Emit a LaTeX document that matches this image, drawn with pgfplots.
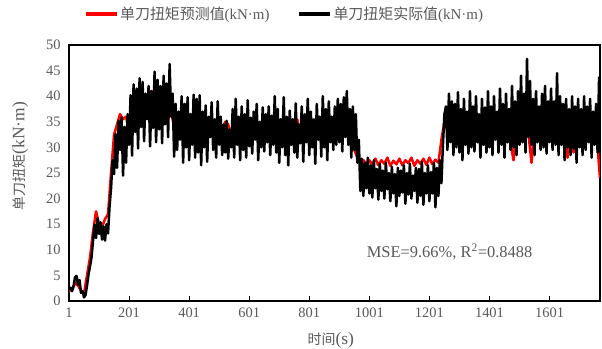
\documentclass[border=0pt]{standalone}
\usepackage{fontspec}
\setmainfont{Liberation Serif}
\newfontfamily\cjk{Noto Sans CJK SC}
\usepackage{pgfplots}
\usepackage{pgfplotstable}
\pgfplotsset{compat=1.18}
\definecolor{txt}{HTML}{595959}
\definecolor{predred}{HTML}{FF0000}

% actual (black), sampled every 5 s starting at t=1
\pgfplotstableread[row sep=\\]{
y\\
2.2\\ 2.6\\ 1.9\\ 2.8\\ 4.6\\ 4.9\\ 3.2\\ 4.1\\ 1.6\\ 1.9\\ 0.7\\ 1.2\\ 3.0\\ 5.2\\ 6.8\\ 8.5\\ 11.8\\ 14.9\\ 12.3\\ 16.2\\
13.1\\ 15.4\\ 12.0\\ 14.6\\ 11.8\\ 15.0\\ 13.2\\ 18.5\\ 22.0\\ 27.5\\ 24.8\\ 32.6\\ 26.0\\ 35.2\\ 29.5\\ 35.8\\ 24.5\\ 34.0\\ 27.0\\ 36.5\\
30.5\\ 40.2\\ 28.4\\ 42.3\\ 33.0\\ 41.5\\ 29.8\\ 43.5\\ 34.0\\ 42.8\\ 31.2\\ 40.5\\ 35.5\\ 42.0\\ 30.2\\ 41.0\\ 33.8\\ 44.8\\ 31.0\\ 43.2\\
33.5\\ 42.0\\ 30.8\\ 44.0\\ 34.5\\ 42.5\\ 32.0\\ 46.3\\ 36.0\\ 40.5\\ 28.2\\ 38.5\\ 29.5\\ 37.0\\ 31.5\\ 40.0\\ 27.0\\ 38.5\\ 30.0\\ 39.8\\
27.5\\ 36.5\\ 30.5\\ 40.3\\ 28.0\\ 39.5\\ 29.0\\ 40.2\\ 26.5\\ 37.0\\ 30.0\\ 38.2\\ 27.2\\ 36.0\\ 32.0\\ 38.8\\ 29.5\\ 35.5\\ 28.0\\ 39.0\\
30.5\\ 36.0\\ 28.5\\ 34.5\\ 29.0\\ 35.2\\ 27.8\\ 33.5\\ 30.0\\ 37.5\\ 28.0\\ 39.5\\ 30.5\\ 36.0\\ 27.5\\ 38.0\\ 29.5\\ 36.5\\ 28.0\\ 39.2\\
30.2\\ 35.8\\ 28.8\\ 37.0\\ 31.5\\ 38.5\\ 27.5\\ 35.0\\ 30.0\\ 37.8\\ 29.2\\ 36.5\\ 31.0\\ 38.0\\ 28.5\\ 36.2\\ 30.5\\ 40.0\\ 29.0\\ 37.5\\
27.0\\ 35.5\\ 30.0\\ 39.8\\ 28.5\\ 36.0\\ 26.5\\ 37.2\\ 30.5\\ 35.5\\ 29.0\\ 38.6\\ 28.0\\ 34.5\\ 30.8\\ 38.0\\ 27.2\\ 36.5\\ 31.0\\ 39.5\\
28.5\\ 37.0\\ 30.0\\ 35.5\\ 26.8\\ 38.5\\ 31.5\\ 36.0\\ 28.2\\ 40.0\\ 30.0\\ 37.5\\ 27.5\\ 39.0\\ 31.0\\ 36.0\\ 29.5\\ 38.0\\ 30.5\\ 39.5\\
31.0\\ 38.5\\ 29.2\\ 39.8\\ 32.0\\ 41.0\\ 30.5\\ 37.5\\ 28.0\\ 38.0\\ 29.5\\ 36.5\\ 27.0\\ 31.5\\ 21.5\\ 27.8\\ 20.5\\ 27.0\\ 22.0\\ 28.0\\
21.0\\ 26.5\\ 20.2\\ 27.5\\ 22.0\\ 25.8\\ 19.8\\ 26.8\\ 21.5\\ 25.5\\ 20.0\\ 27.0\\ 21.8\\ 25.0\\ 19.5\\ 26.2\\ 21.0\\ 24.8\\ 18.5\\ 26.0\\
20.5\\ 25.5\\ 21.2\\ 26.5\\ 19.0\\ 25.0\\ 20.8\\ 26.8\\ 20.0\\ 24.5\\ 21.5\\ 26.0\\ 19.2\\ 25.8\\ 20.5\\ 27.2\\ 18.8\\ 25.0\\ 21.0\\ 26.5\\
19.5\\ 25.2\\ 21.0\\ 27.0\\ 18.3\\ 26.0\\ 20.5\\ 27.5\\ 23.0\\ 30.5\\ 36.5\\ 38.0\\ 29.5\\ 40.5\\ 31.0\\ 39.0\\ 28.5\\ 38.5\\ 30.0\\ 40.8\\
29.0\\ 37.5\\ 27.5\\ 39.5\\ 30.5\\ 37.0\\ 28.8\\ 41.0\\ 30.0\\ 38.0\\ 29.2\\ 40.0\\ 31.0\\ 36.5\\ 28.0\\ 39.5\\ 30.5\\ 37.8\\ 29.0\\ 41.0\\
30.0\\ 38.0\\ 28.5\\ 40.0\\ 31.5\\ 37.0\\ 29.0\\ 41.5\\ 30.5\\ 38.5\\ 28.0\\ 40.5\\ 31.0\\ 37.5\\ 29.5\\ 42.0\\ 30.0\\ 39.0\\ 28.5\\ 41.0\\
30.5\\ 44.0\\ 31.0\\ 40.5\\ 29.0\\ 47.3\\ 32.0\\ 43.0\\ 30.5\\ 39.5\\ 28.5\\ 41.0\\ 31.0\\ 38.0\\ 29.5\\ 40.5\\ 30.0\\ 42.0\\ 28.8\\ 39.0\\
31.0\\ 41.5\\ 29.5\\ 39.0\\ 30.5\\ 44.5\\ 28.5\\ 40.0\\ 30.5\\ 38.5\\ 27.5\\ 39.5\\ 30.0\\ 37.5\\ 28.5\\ 40.0\\ 29.8\\ 38.0\\ 27.0\\ 39.5\\
30.0\\ 37.5\\ 28.5\\ 40.0\\ 29.5\\ 38.0\\ 31.0\\ 39.5\\ 28.0\\ 37.0\\ 30.5\\ 38.5\\ 29.0\\ 43.8\\
}\actual

% predicted (red), sampled every 10 s starting at t=1
\pgfplotstableread{
x y
1 2.0
11 2.2
21 3.5
31 3.0
41 2.0
51 1.5
61 5.0
71 8.5
81 13.5
91 17.5
101 15.0
111 14.5
121 16.0
131 17.0
141 25.0
151 32.5
161 34.5
171 36.5
181 35.5
191 36.0
201 33.0
211 38.0
221 35.0
231 39.5
241 36.0
251 40.0
261 37.0
271 41.0
281 36.5
291 40.5
301 37.0
311 41.5
321 38.0
331 40.0
341 37.0
351 34.0
361 36.5
371 33.5
381 35.5
391 33.0
401 34.5
411 32.0
421 35.5
431 33.0
441 35.0
451 32.5
461 34.0
471 33.0
481 35.0
491 32.0
501 34.5
511 33.0
521 35.0
531 34.5
541 32.0
551 35.5
561 33.0
571 34.5
581 32.5
591 35.0
601 33.5
611 35.0
621 32.5
631 34.5
641 33.0
651 35.5
661 32.0
671 34.0
681 35.0
691 33.0
701 34.5
711 32.5
721 35.0
731 29.5
741 34.0
751 33.0
761 35.5
771 32.0
781 34.0
791 33.5
801 35.0
811 32.5
821 34.5
831 33.0
841 36.0
851 32.5
861 34.0
871 33.5
881 35.0
891 32.0
901 34.5
911 33.0
921 35.5
931 32.5
941 30.0
951 29.5
961 28.0
971 27.0
981 27.5
991 26.8
1001 27.5
1011 26.6
1021 27.8
1031 26.5
1041 27.5
1051 26.8
1061 28.0
1071 26.4
1081 27.4
1091 26.7
1101 27.8
1111 26.5
1121 27.5
1131 26.9
1141 28.0
1151 26.4
1161 27.5
1171 26.8
1181 27.8
1191 26.6
1201 28.0
1211 26.7
1221 27.6
1231 27.0
1241 31.5
1251 35.0
1261 36.5
1271 33.5
1281 35.5
1291 33.0
1301 35.0
1311 32.0
1321 36.0
1331 33.0
1341 35.5
1351 32.5
1361 34.5
1371 33.0
1381 36.0
1391 32.0
1401 35.0
1411 33.5
1421 36.5
1431 32.5
1441 35.0
1451 33.0
1461 34.5
1471 31.0
1481 27.5
1491 33.0
1501 35.5
1511 33.0
1521 36.0
1531 32.5
1541 27.0
1551 33.5
1561 35.0
1571 32.0
1581 34.5
1591 33.0
1601 36.0
1611 32.5
1621 35.0
1631 33.0
1641 34.5
1651 31.0
1661 28.0
1671 33.5
1681 29.0
1691 34.0
1701 35.5
1711 33.0
1721 34.5
1731 32.0
1741 35.0
1751 33.0
1761 30.0
1769 24.0
}\predicted

\begin{document}
\begin{tikzpicture}
\path[use as bounding box] (0,0) rectangle (602bp,349bp);
\begin{axis}[
  at={(69bp,48bp)}, anchor=south west,
  scale only axis, width=531bp, height=256bp,
  xmin=1, xmax=1769, ymin=0, ymax=50,
  xtick={1,201,401,601,801,1001,1201,1401,1601},
  ytick={0,5,...,50},
  xtick pos=lower, tick align=inside,
  major tick length=5bp,
  ytick style={draw=none},
  xtick style={black, line width=1bp},
  axis line style={black, line width=1.1bp},
  /pgf/number format/assume math mode=true,
  /pgf/number format/set thousands separator={},
  ticklabel style={font=\fontsize{14.5}{16}\selectfont, text=txt},
  xticklabel style={yshift=-3bp},
  yticklabel style={xshift=-5bp},
  ylabel={{\cjk\fontsize{14}{15}\selectfont 单刀扭矩}{\fontsize{17.5}{17}\selectfont(kN·m)}},
  ylabel style={at={(axis description cs:-0.092,0.566)}, anchor=center, text=txt},
  xlabel={{\cjk\fontsize{14}{15}\selectfont 时间}{\fontsize{17.5}{17}\selectfont(s)}},
  xlabel style={at={(axis description cs:0.493,-0.152)}, anchor=center, text=txt, inner sep=0pt},
  legend columns=2,
  legend style={at={(axis description cs:0.405,1.121)}, anchor=center, draw=none, fill=none,
    text=txt,
    /tikz/every even column/.append style={column sep=26bp},
    nodes={inner xsep=1.5bp}},
  legend image code/.code={\draw[#1, line width=4bp] (0bp,0bp) -- (31bp,0bp);},
  clip=true,
]
\addplot[predred, line width=2.5bp, line join=round] table[x=x, y=y] {\predicted};
\addlegendentry{\fontsize{15}{17}\selectfont{\cjk 单刀扭矩预测值}(kN·m)}
\addplot[black, line width=2.5bp, line join=round] table[x expr=\coordindex*5+1, y=y] {\actual};
\addlegendentry{\fontsize{15}{17}\selectfont{\cjk 单刀扭矩实际值}(kN·m)}
\node[text=txt, font=\fontsize{16.5}{18}\selectfont, anchor=center] at (axis cs:1268,9.6) {MSE=9.66\%, R\textsuperscript{2}=0.8488};
\end{axis}
\end{tikzpicture}
\end{document}
